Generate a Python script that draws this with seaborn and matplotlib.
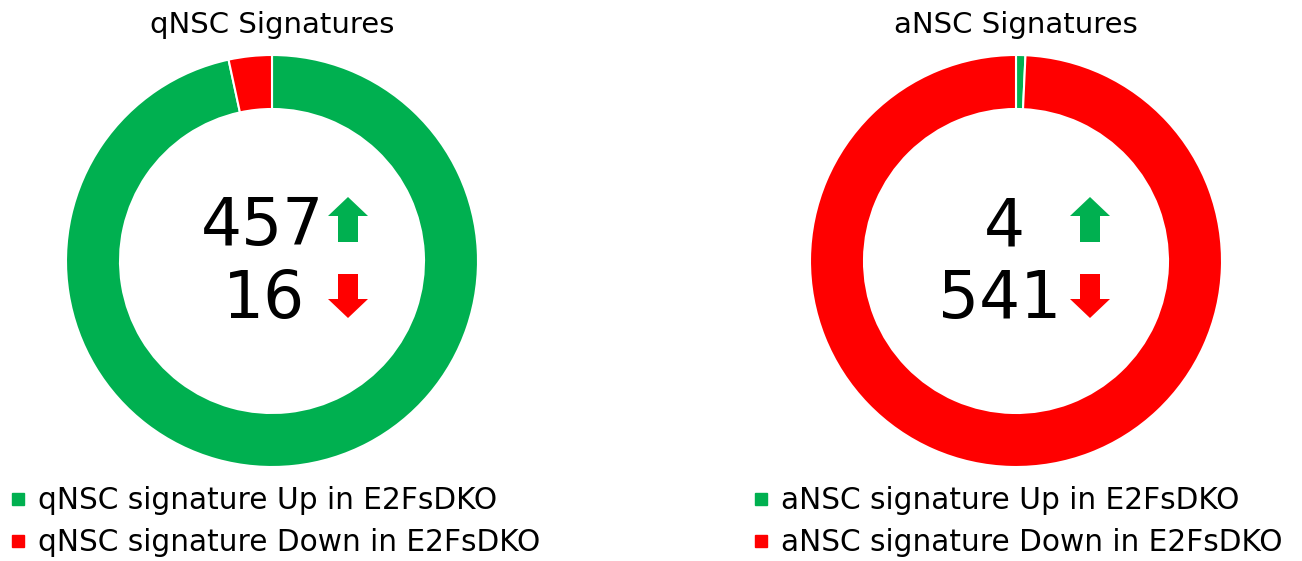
import matplotlib
matplotlib.use("Agg")
import matplotlib.pyplot as plt
from matplotlib.lines import Line2D
import seaborn as sns

# Signature gene counts per panel: [up, down] in E2FsDKO
titles = ["qNSC Signatures", "aNSC Signatures"]
up_counts = [457, 4]
down_counts = [16, 541]
legend_up = ["qNSC signature Up in E2FsDKO", "aNSC signature Up in E2FsDKO"]
legend_down = ["qNSC signature Down in E2FsDKO", "aNSC signature Down in E2FsDKO"]

GREEN = "#00B050"
RED = "#FF0000"

sns.set_theme(style="white")
plt.rcParams["font.family"] = ["DejaVu Sans"]
plt.rcParams["text.color"] = "black"

W, H = 1302, 561
fig = plt.figure(figsize=(W / 100, H / 100), dpi=100)
ax = fig.add_axes([0, 0, 1, 1])
ax.set_xlim(0, W)
ax.set_ylim(0, H)
ax.set_aspect("equal")
ax.axis("off")

centers_x = [272, 1016]
cy = 300
R = 206
ring = 54

# numeric label layout per panel: right edge of up/down numbers
up_num_right = [324, 1025]
down_num_right = [305, 1061]
arrow_x = [348, 1090]
legend_x = [11, 754]

for i in range(2):
    cx = centers_x[i]
    ax.pie([up_counts[i], down_counts[i]], colors=[GREEN, RED],
           startangle=90, counterclock=False, radius=R, center=(cx, cy),
           wedgeprops=dict(width=ring, edgecolor="white", linewidth=1.5),
           frame=True)
    ax.text(cx, H - 25, titles[i], ha="center", va="center", fontsize=21,
            color="black")
    ax.text(up_num_right[i], H - 245, f"{up_counts[i]}", ha="right",
            va="baseline", fontsize=46.5, color="black")
    ax.text(down_num_right[i], H - 318, f"{down_counts[i]}", ha="right",
            va="baseline", fontsize=46.5, color="black")
    # up / down arrows
    ax.arrow(arrow_x[i], H - 242, 0, 45, width=20, head_width=40,
             head_length=19, length_includes_head=True, color=GREEN, lw=0)
    ax.arrow(arrow_x[i], H - 274, 0, -44, width=20, head_width=40,
             head_length=19, length_includes_head=True, color=RED, lw=0)
    handles = [Line2D([], [], marker="s", ls="none", color=GREEN, markersize=8),
               Line2D([], [], marker="s", ls="none", color=RED, markersize=8)]
    leg = ax.legend(handles, [legend_up[i], legend_down[i]], loc="upper left",
                    bbox_to_anchor=(legend_x[i], H - 486),
                    bbox_transform=ax.transData, frameon=False, fontsize=21.3,
                    borderpad=0, borderaxespad=0, handlelength=0.5,
                    handletextpad=0.42, labelspacing=0.45)
    for t in leg.get_texts():
        t.set_color("black")
    if i == 0:
        ax.add_artist(leg)

ax.set_xlim(0, W)
ax.set_ylim(0, H)
fig.savefig("out.png", dpi=100)
